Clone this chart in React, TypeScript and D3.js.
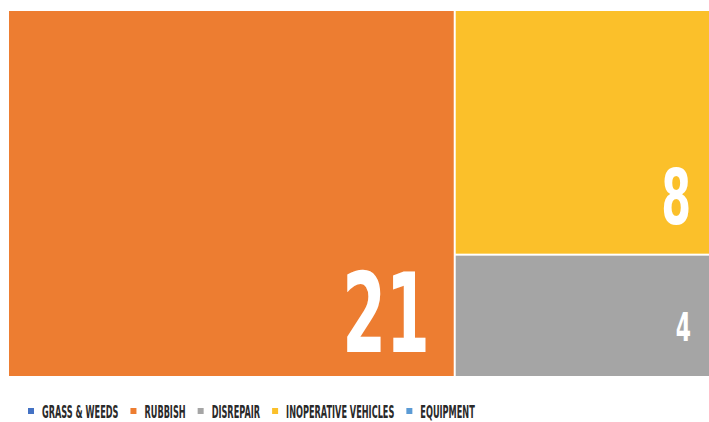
import { useRef, useEffect } from "react";
import * as d3 from "d3";

const categories = ["GRASS & WEEDS", "RUBBISH", "DISREPAIR", "INOPERATIVE VEHICLES", "EQUIPMENT"];
const counts = [0, 21, 4, 8, 0];
const colors = ["#4472C4", "#ED7D31", "#A5A5A5", "#FBC02A", "#5B9BD5"];

const W = 709;
const H = 422;
const FONT = "'DejaVu Sans Condensed', 'Liberation Sans', sans-serif";

interface Leaf {
  name: string;
  value: number;
  color: string;
}

export default function App() {
  const svgRef = useRef<SVGSVGElement>(null);

  useEffect(() => {
    if (!svgRef.current) return;
    const svg = d3.select(svgRef.current);
    svg.selectAll("*").remove();

    const margin = { top: 11, right: 0, bottom: 46, left: 9 };
    const innerW = W - margin.left - margin.right;
    const innerH = H - margin.top - margin.bottom;

    const leaves: Leaf[] = categories.map((c, i) => ({ name: c, value: counts[i], color: colors[i] }));
    const root = d3
      .hierarchy<any>({ children: leaves })
      .sum((d) => d.value || 0)
      .sort((a, b) => (b.value || 0) - (a.value || 0));

    d3.treemap<any>().size([innerW, innerH]).paddingInner(2).tile(d3.treemapSquarify)(root);

    const g = svg.append("g").attr("transform", `translate(${margin.left},${margin.top})`);

    const cells = g
      .selectAll("g")
      .data(root.leaves().filter((d) => (d.value || 0) > 0) as d3.HierarchyRectangularNode<any>[])
      .join("g");

    cells
      .append("rect")
      .attr("x", (d) => d.x0)
      .attr("y", (d) => d.y0)
      .attr("width", (d) => d.x1 - d.x0)
      .attr("height", (d) => d.y1 - d.y0)
      .attr("fill", (d) => d.data.color);

    // value labels, bottom-right, sized by the cell height
    cells.each(function (d) {
      const h = d.y1 - d.y0;
      const cap = (0.24 - 0.00005 * h) * h;
      const fs = cap / 0.73;
      const padB = 40 - 0.044 * h;
      const padR = h > 300 ? 24 : 18;
      const lg = d3
        .select(this)
        .append("g")
        .attr("transform", `translate(${d.x1 - padR},${d.y1 - padB}) scale(0.63,1)`);
      lg.append("text")
        .attr("text-anchor", "end")
        .style("font-family", FONT)
        .style("font-weight", "bold")
        .style("font-size", `${fs}px`)
        .style("fill", "#FFFFFF")
        .text(d.value as number);
    });

    // legend
    const legend = svg.append("g").attr("transform", `translate(28,411)`);
    let x = 0;
    categories.forEach((c, i) => {
      legend
        .append("rect")
        .attr("x", x)
        .attr("y", -3)
        .attr("width", 6)
        .attr("height", 6)
        .attr("fill", colors[i]);
      x += 14;
      const tg = legend.append("g").attr("transform", `translate(${x},0) scale(0.52,1)`);
      const t = tg
        .append("text")
        .attr("y", 6.5)
        .style("font-family", FONT)
        .style("font-weight", "bold")
        .style("font-size", "17.5px")
        .style("fill", "#2a2a2a")
        .text(c);
      const tw = (t.node() as SVGTextElement).getComputedTextLength() * 0.52;
      x += tw + 12;
    });
  }, []);

  return (
    <div style={{ position: "fixed", left: 0, top: 0, background: "#fff" }}>
      <svg ref={svgRef} width={W} height={H} style={{ display: "block" }} />
    </div>
  );
}
